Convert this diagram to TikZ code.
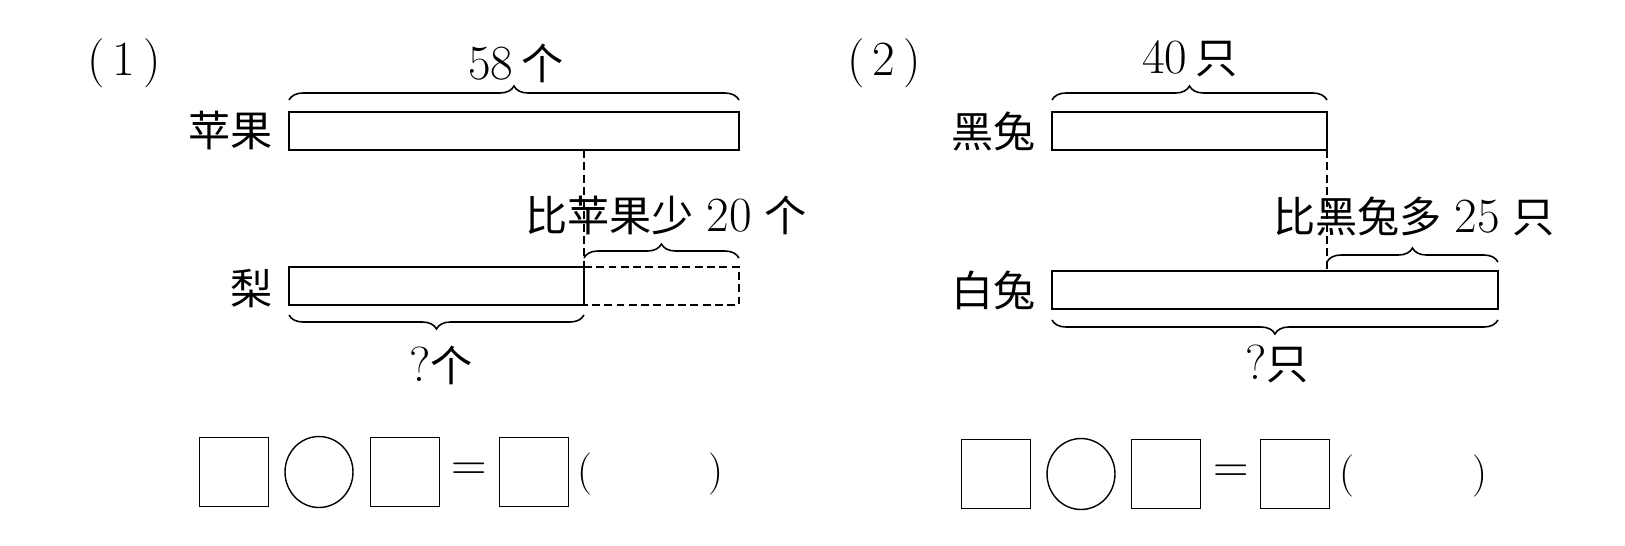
\documentclass[tikz,border=0pt]{standalone}
\usepackage{fontspec}
\newfontfamily\cjk{Noto Sans CJK SC}
\usetikzlibrary{positioning,decorations.pathreplacing,shapes.geometric}
\newcommand{\zh}[1]{{\cjk #1}}
\newcommand{\dg}[1]{{\fontsize{28}{32}\selectfont #1}}

\begin{document}
\begin{tikzpicture}[
    x=0.02cm, y=-0.02cm,
    every node/.style={font=\fontsize{24}{28}\selectfont, inner sep=0pt},
    bar/.style={draw, line width=1pt, outer sep=0pt, anchor=north west, minimum height=0.76cm},
    ghost/.style={line width=0.9pt, dash pattern=on 4.5pt off 2.5pt},
    brc/.style={decorate, decoration={brace, amplitude=0.28cm}, line width=0.9pt},
    blank/.style={draw, line width=0.8pt, minimum size=1.38cm},
    ring/.style={draw, ellipse, line width=0.8pt, minimum width=1.36cm, minimum height=1.42cm},
  ]
    % canvas is 1625 x 545 px, y runs downwards
    \useasboundingbox (0,0) rectangle (1625,545);

    % ---------- (1) apples and pears
    \node (tag1) at (124,63) {\dg{(\,1\,)}};
    \node[bar, minimum width=9cm] (apple) at (289,112) {};
    \node[bar, minimum width=5.9cm] (pear) at (289,267) {};
    \node[left=0.32cm of apple] (applelbl) {\zh{苹果}};
    \node[left=0.32cm of pear, yshift=-0.06cm] (pearlbl) {\zh{梨}};

    % missing part of the pear bar, and the guide line
    \draw[ghost] (pear.north east) -- (apple.east |- pear.north)
      -- (apple.east |- pear.south) -- (pear.south east);
    \draw[ghost] (apple.south -| pear.east) -- (pear.north east);

    % braces
    \draw[brc] ([yshift=0.24cm]apple.north west) -- ([yshift=0.24cm]apple.north east);
    \draw[brc] ([yshift=0.18cm]pear.north east) -- ([yshift=0.18cm]apple.east |- pear.north);
    \draw[brc] ([yshift=-0.2cm]pear.south east) -- ([yshift=-0.2cm]pear.south west);
    \node (applecnt) at (516,63) {\dg{58}\hspace{0.2em}\zh{个}};
    \node (lesscnt) at (666,215) {\zh{比苹果少}\hspace{0.3em}\dg{20}\hspace{0.3em}\zh{个}};
    \node (pearcnt) at (441,365) {\dg{?}\zh{个}};

    % ---------- (2) rabbits
    \node (tag2) at (884,63) {\dg{(\,2\,)}};
    \node[bar, minimum width=5.5cm] (black) at (1052,112) {};
    \node[bar, minimum width=8.92cm] (white) at (1052,271) {};
    \node[left=0.32cm of black] (blacklbl) {\zh{黑兔}};
    \node[left=0.32cm of white] (whitelbl) {\zh{白兔}};

    \draw[ghost] (black.south east) -- (black.east |- white.north);

    \draw[brc] ([yshift=0.24cm]black.north west) -- ([yshift=0.24cm]black.north east);
    \draw[brc] ([yshift=0.18cm]black.east |- white.north) -- ([yshift=0.18cm]white.north east);
    \draw[brc] ([yshift=-0.22cm]white.south east) -- ([yshift=-0.22cm]white.south west);
    \node (blackcnt) at (1190,59) {\dg{40}\hspace{0.2em}\zh{只}};
    \node (morecnt) at (1414,216) {\zh{比黑兔多}\hspace{0.3em}\dg{25}\hspace{0.3em}\zh{只}};
    \node (whitecnt) at (1277,364) {\dg{?}\zh{只}};

    % ---------- blank equations
    \foreach \x/\n in {234/a,405/b,534/c} {
      \node[blank] (eqL\n) at (\x,472) {};
    }
    \node[ring] (opL) at (319,472) {};
    \node (eqsL) at (469,472) {\dg{=}};
    \node (lpL) at (585,474) {(};
    \node (rpL) at (716,474) {)};

    \foreach \x/\n in {996/a,1166/b,1295/c} {
      \node[blank] (eqR\n) at (\x,474) {};
    }
    \node[ring] (opR) at (1081,474) {};
    \node (eqsR) at (1231,474) {\dg{=}};
    \node (lpR) at (1347,476) {(};
    \node (rpR) at (1480,476) {)};
  \end{tikzpicture}
\end{document}
